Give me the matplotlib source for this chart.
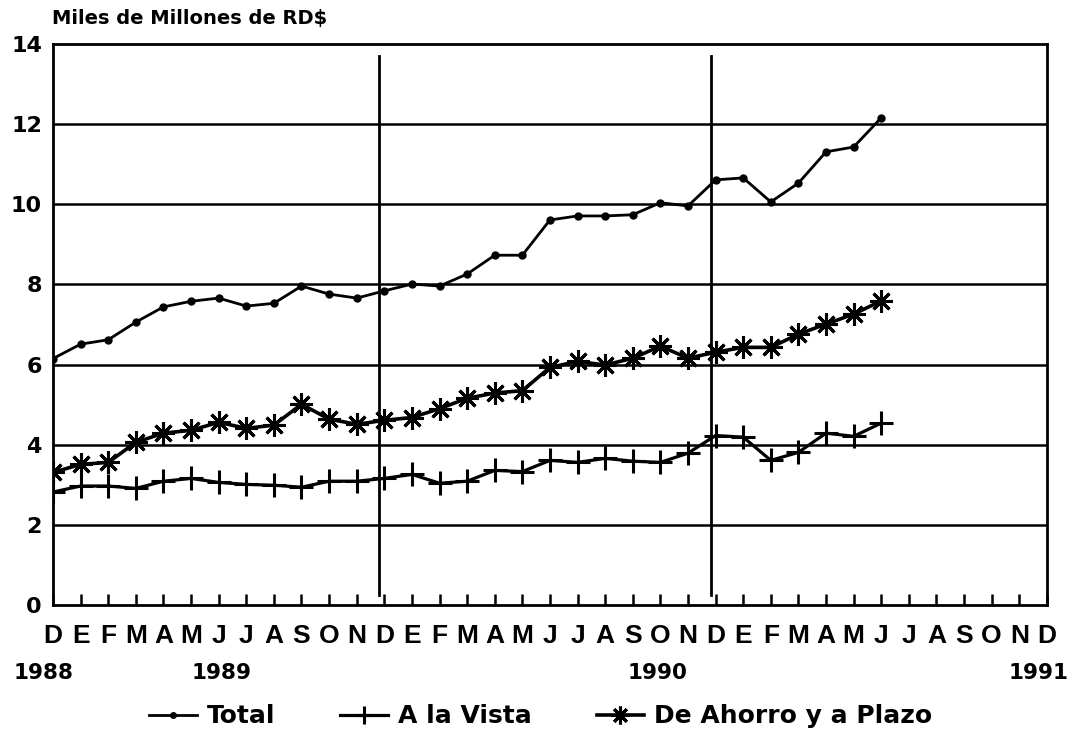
import matplotlib
matplotlib.use("Agg")
import matplotlib.pyplot as plt
import numpy as np

# months Dec 1988 .. Dec 1991 (axis), data Dec 1988 .. Jun 1991
month_labels = list("DEFMAMJJASOND" + "EFMAMJJASOND" + "EFMAMJJASOND")
year_labels = ["1988", "1989", "1990", "1991"]
year_pos = [-0.35, 6.1, 21.9, 35.7]

total = [6.15, 6.51, 6.62, 7.06, 7.44, 7.58, 7.66, 7.46, 7.53, 7.96, 7.76, 7.66,
         7.84, 8.01, 7.96, 8.26, 8.73, 8.73, 9.61, 9.71, 9.71, 9.74, 10.04, 9.96,
         10.61, 10.66, 10.06, 10.53, 11.31, 11.43, 12.16]
vista = [2.82, 2.97, 2.97, 2.91, 3.09, 3.16, 3.06, 3.01, 2.99, 2.94, 3.09, 3.09,
         3.16, 3.26, 3.04, 3.09, 3.36, 3.33, 3.61, 3.56, 3.66, 3.59, 3.56, 3.79,
         4.23, 4.19, 3.61, 3.81, 4.29, 4.21, 4.54]
ahorro = [3.31, 3.51, 3.56, 4.06, 4.29, 4.36, 4.56, 4.41, 4.49, 5.01, 4.64, 4.51,
          4.61, 4.68, 4.90, 5.16, 5.29, 5.35, 5.93, 6.08, 5.99, 6.16, 6.46, 6.16,
          6.31, 6.43, 6.43, 6.76, 7.01, 7.26, 7.59]

plt.rcParams['font.family'] = ['DejaVu Sans']
plt.rcParams['font.weight'] = 'bold'

fig = plt.figure(figsize=(10.71, 7.34), dpi=100)
ax = fig.add_axes([0.0495, 0.1757, 0.928, 0.7643])

x = np.arange(len(total))
ax.plot(x, total, color='black', lw=2, marker='o', ms=5, label='Total')
ax.plot(x, vista, color='black', lw=2.3, marker='+', ms=17, mew=2.2, label='A la Vista')
ax.plot(x, ahorro, color='black', lw=2.6, marker=(8, 2, 0), ms=16, mew=2.2,
        label='De Ahorro y a Plazo')

# year separators
for xv in [11.8, 23.85]:
    ax.plot([xv, xv], [0.25, 13.7], color='black', lw=2)

ax.set_xlim(0, 36)
ax.set_ylim(0, 14)
ax.set_yticks(range(0, 15, 2))
ax.set_yticklabels([str(v) for v in range(0, 15, 2)], fontsize=16, fontweight='bold')
for yv in range(2, 14, 2):
    ax.axhline(yv, color='black', lw=1.8, zorder=0)

ax.set_xticks(range(len(month_labels)))
ax.set_xticklabels(month_labels)
for t in ax.get_xticklabels():
    t.set_fontfamily('Liberation Sans')
    t.set_fontsize(19)
    t.set_fontweight('bold')
ax.tick_params(axis='x', direction='in', length=8, width=1.8, pad=14)
ax.tick_params(axis='y', length=0, pad=8)
for s in ax.spines.values():
    s.set_linewidth(2)

for yl, xp in zip(year_labels, year_pos):
    ax.text(xp, -1.7, yl, ha='center', va='center', fontsize=15.5, fontweight='bold')

fig.text(0.049, 0.975, 'Miles de Millones de RD$', fontsize=14, fontweight='bold',
         ha='left', va='center')

fig.legend(loc='center', bbox_to_anchor=(0.505, 0.024), ncol=3, frameon=False,
           handlelength=1.9, columnspacing=2.6, handletextpad=0.4, markerscale=0.8,
           prop={'weight': 'bold', 'size': 18})

fig.savefig('out.png', dpi=100)
